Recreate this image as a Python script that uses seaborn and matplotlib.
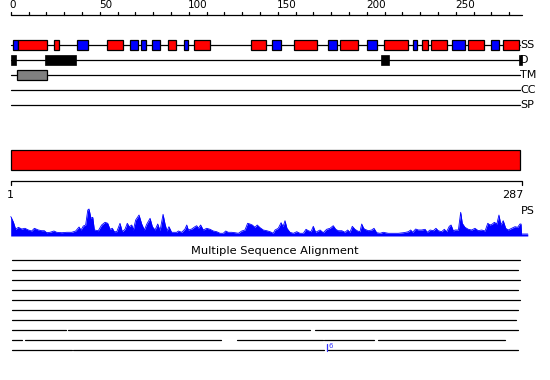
import matplotlib
matplotlib.use("Agg")
import matplotlib.pyplot as plt
import seaborn as sns
import numpy as np

sns.set_style("white")
plt.rcParams['font.family'] = ['DejaVu Sans']
plt.rcParams['text.color'] = 'black'

SEQ_LEN = 287
ruler_ticks = list(range(0, 281, 10))
ruler_labels = [0, 50, 100, 150, 200, 250]

track_names = ["SS", "D", "TM", "CC", "SP"]

# secondary structure elements: start, end, type (H helix red, E strand blue)
ss_start = [1.5, 4.3, 24.5, 37.4, 54.3, 67.2, 73.4, 79.6, 88.5, 97.5, 103.1, 135.2, 147.0,
            159.3, 178.4, 185.2, 200.3, 209.9, 226.2, 231.2, 236.3, 248.1, 257.1, 270.0, 276.4]
ss_end = [4.3, 20.6, 27.3, 43.6, 63.3, 71.3, 75.8, 83.7, 92.7, 99.4, 111.8, 143.3, 151.7,
          172.2, 183.1, 195.3, 205.9, 223.4, 228.1, 234.3, 245.3, 255.1, 266.1, 274.2, 285.4]
ss_type = ["E", "H", "H", "E", "H", "E", "E", "E", "H", "E", "H", "H", "E",
           "H", "E", "H", "E", "H", "E", "H", "H", "E", "H", "E", "H"]

# disorder regions
d_start = [0.0, 19.3, 208.0, 285.6]
d_end = [3.2, 36.7, 212.5, 287.0]

# transmembrane
tm_start = [3.7]
tm_end = [20.6]

# PS profile (position, height)
ps_pos = [0, 0.2, 1.5, 2.8, 4.3, 6.2, 8.0, 9.9, 11.8, 13.3, 15.5, 17.4, 18.9, 20.2, 22.1, 24.3,
          25.8, 28.7, 31.5, 34.3, 36.5, 38.4, 39.5, 40.8, 42.1, 43.3, 44.0, 45.1, 46.1, 47.0,
          49.2, 51.1, 53.0, 54.5, 55.8, 57.1, 58.2, 59.6, 61.4, 62.7, 64.2, 65.5, 66.6, 68.0,
          68.9, 70.2, 72.1, 73.6, 75.1, 76.4, 78.3, 79.6, 81.1, 82.6, 83.9, 85.6, 86.7, 87.8,
          88.9, 90.4, 93.3, 94.2, 96.1, 97.9, 98.9, 99.8, 101.7, 103.5, 104.5, 105.4, 106.7,
          108.2, 110.1, 112.0, 113.8, 115.7, 117.6, 119.4, 120.8, 122.2, 124.2, 126.0, 127.9,
          129.8, 131.6, 133.1, 134.4, 135.7, 137.2, 138.5, 140.1, 141.9, 143.8, 145.7, 147.5,
          148.5, 150.3, 151.9, 153.0, 154.1, 155.2, 156.9, 158.8, 160.7, 162.5, 164.4, 165.9,
          167.2, 168.7, 170.0, 171.3, 173.8, 175.6, 177.5, 179.4, 181.2, 182.6, 184.0, 186.0,
          187.8, 189.3, 190.6, 191.9, 193.4, 194.9, 196.2, 197.2, 198.3, 199.0, 200.9, 202.8,
          204.1, 205.6, 207.5, 209.3, 212.1, 215.0, 217.8, 220.6, 221.9, 223.4, 224.7, 225.8,
          227.5, 229.0, 230.9, 232.8, 234.0, 235.6, 237.4, 238.9, 240.2, 242.1, 243.6, 244.9,
          246.4, 247.4, 248.7, 249.6, 251.5, 252.8, 253.7, 255.2, 257.1, 259.0, 260.8, 262.7,
          264.6, 266.5, 268.0, 269.3, 270.6, 271.7, 273.1, 274.3, 275.4, 276.7, 278.1, 279.5,
          281.5, 283.3, 284.8, 286.1, 286.7, 287.0, 290.5]
ps_val = [19.3, 19.0, 14.0, 6.7, 8.7, 7.0, 7.7, 6.0, 5.0, 7.7, 6.0, 5.3, 5.3, 3.3, 3.7, 5.0,
          3.7, 3.3, 3.7, 3.7, 5.0, 9.0, 6.0, 10.0, 11.0, 26.0, 27.0, 17.7, 18.7, 6.0,
          5.3, 11.0, 13.7, 12.7, 6.7, 7.7, 4.3, 4.3, 12.7, 4.3, 6.7, 12.7, 9.3, 11.0,
          6.0, 16.0, 21.0, 12.0, 6.0, 11.7, 17.7, 9.3, 6.0, 12.0, 5.3, 21.7, 12.0, 5.0,
          9.3, 3.7, 3.7, 5.0, 3.7, 7.0, 11.0, 6.0, 7.0, 9.3, 10.3, 7.7, 11.0,
          6.0, 7.7, 6.7, 5.0, 4.3, 2.7, 2.7, 5.0, 3.7, 3.7, 3.3, 2.7,
          5.0, 6.0, 12.7, 12.0, 11.0, 8.7, 11.0, 8.3, 6.0, 5.3, 4.3, 2.7,
          6.0, 7.7, 13.3, 9.3, 15.3, 7.7, 3.7, 2.7, 4.3, 2.7, 2.7, 6.7,
          5.3, 4.3, 9.7, 3.7, 6.0, 3.3, 6.7, 7.7, 10.3, 6.7, 5.3, 5.3,
          3.7, 6.0, 3.7, 9.7, 6.7, 5.0, 4.3, 12.0, 7.7, 6.7, 5.3, 6.0,
          7.7, 3.3, 2.7, 3.7, 2.7, 2.7, 2.7, 3.3, 3.7, 4.3, 6.0, 3.7,
          7.0, 6.0, 6.0, 6.7, 3.7, 6.0, 5.3, 7.7, 5.3, 4.3, 6.7, 4.3,
          9.7, 11.0, 5.0, 6.0, 6.0, 23.7, 12.7, 8.7, 6.7, 6.0, 7.7, 5.3,
          6.0, 5.0, 12.7, 11.0, 12.0, 13.7, 12.0, 21.0, 11.0, 15.3, 7.7, 6.0,
          7.7, 9.3, 8.7, 12.0, 12.0, 2.0, 2.0]

# multiple sequence alignment coverage rows: list of (start, end) segments
msa_rows = [
    [(0.5, 286.3)],
    [(0.5, 285.2)],
    [(0.5, 286.3)],
    [(0.5, 285.2)],
    [(0.5, 286.3)],
    [(0.5, 285.2)],
    [(0.5, 283.9)],
    [(0.5, 30.9), (32.4, 168.1), (171.0, 285.2)],
    [(0.5, 6.5), (8.0, 118.1), (127.1, 175.3), (176.0, 204.1), (206.2, 277.7)],
    [(0.5, 34.3), (35.0, 176.0), (178.3, 285.2)],
]
msa_marker_pos = 177.7
msa_marker_label = "6"

RED = "#ff0000"
BLUE = "#0000ff"
GRAY = "#808080"

W, H = 550, 380
fig = plt.figure(figsize=(5.5, 3.8), dpi=100)

# pixel mapping (layout): x_px = X0 + SCALE * pos
X0, SCALE = 10.7, 1.78
xmin = -X0 / SCALE
xmax = (W - X0) / SCALE

ax = fig.add_axes([0, 0, 1, 1])
ax.set_xlim(xmin, xmax)
ax.set_ylim(H, 0)
ax.axis("off")

lw = 0.9
# ruler
ax.plot([0, SEQ_LEN], [15, 15], color="black", lw=lw)
for t in ruler_ticks:
    ax.plot([t, t], [11.5, 15], color="black", lw=lw)
for t in ruler_labels:
    ax.text(t - 0.5, 10.5, str(t), ha="left", va="bottom", fontsize=7.5, color="black")

row_y = {name: 45 + 15 * i for i, name in enumerate(track_names)}
for name in track_names:
    y = row_y[name]
    ax.plot([0, 286.3], [y, y], color="black", lw=lw, zorder=1)
    ax.text(286.3, y, name, ha="left", va="center", fontsize=8, color="black")

box_h = 10
for s, e, t in zip(ss_start, ss_end, ss_type):
    ax.add_patch(plt.Rectangle((s, row_y["SS"] - box_h / 2), e - s, box_h,
                               facecolor=RED if t == "H" else BLUE, edgecolor="black",
                               lw=0.9, zorder=3))
for s, e in zip(d_start, d_end):
    ax.add_patch(plt.Rectangle((s, row_y["D"] - 5.3), e - s, 10.6,
                               facecolor="black", edgecolor="black", lw=0.5, zorder=3))
for s, e in zip(tm_start, tm_end):
    ax.add_patch(plt.Rectangle((s, row_y["TM"] - 5), e - s, 10,
                               facecolor=GRAY, edgecolor="black", lw=0.9, zorder=3))

# domain bar
ax.add_patch(plt.Rectangle((0, 150), SEQ_LEN - 0.6, 20, facecolor=RED, edgecolor="black", lw=0.9))
ax.plot([0, 0, SEQ_LEN, SEQ_LEN], [185, 180.7, 180.7, 185], color="black", lw=lw)
ax.text(0, 195, "1", ha="center", va="center", fontsize=8, color="black")
ax.text(288.3, 195, "287", ha="right", va="center", fontsize=8, color="black")
ax.text(286.5, 210.5, "PS", ha="left", va="center", fontsize=8, color="black")

# MSA
ax.text(148.2, 250.5, "Multiple Sequence Alignment", ha="center",
        va="center", fontsize=8.2, color="black")
for i, segs in enumerate(msa_rows):
    y = 260 + 10 * i
    for s, e in segs:
        ax.plot([s, e], [y, y], color="black", lw=lw)
ax.plot([msa_marker_pos, msa_marker_pos], [344, 350.5], color="#3333ff", lw=0.9)
ax.text(msa_marker_pos + 0.8, 346, msa_marker_label, color="#3333ff", fontsize=5,
        ha="left", va="center")

# PS profile axes
ps_ax = fig.add_axes([0, (H - 236) / H, 1, 30 / H])
ps_ax.set_xlim(xmin, xmax)
ps_ax.set_ylim(0, 30)
ps_ax.axis("off")
ps_ax.fill_between(ps_pos, 0, ps_val, color=BLUE, lw=0)
sns.lineplot(x=ps_pos, y=ps_val, ax=ps_ax, color=BLUE, lw=0.6, estimator=None, sort=False)

fig.savefig("out.png", dpi=100)
